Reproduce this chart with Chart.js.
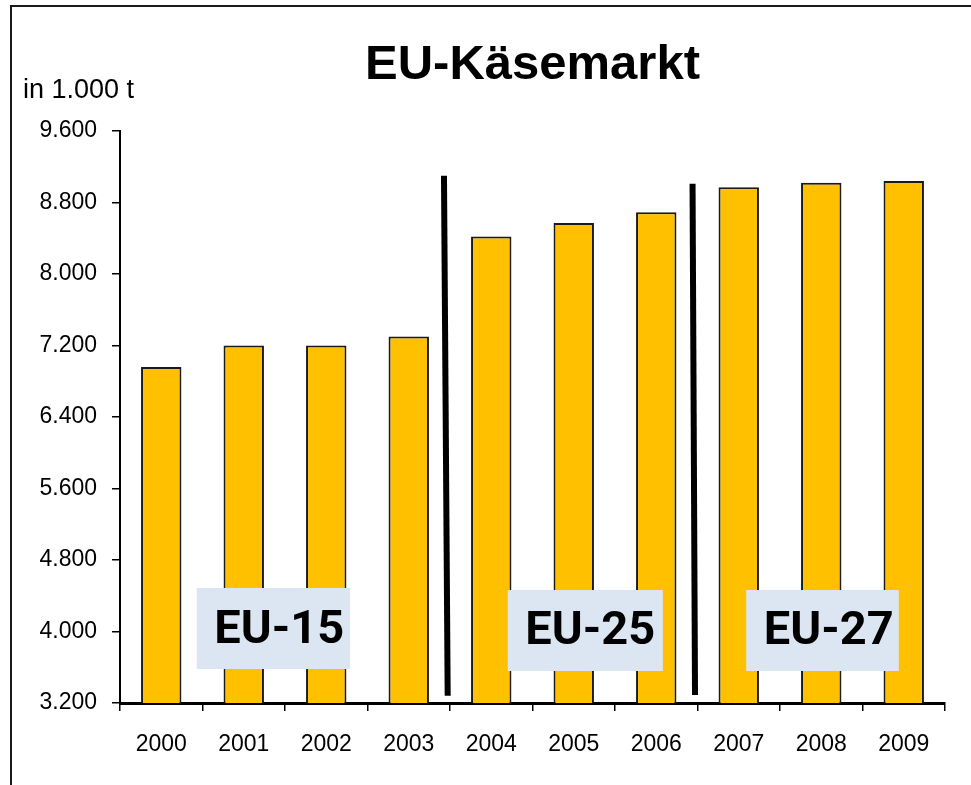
<!DOCTYPE html>
<html>
<head>
<meta charset="utf-8">
<script src="https://cdn.jsdelivr.net/npm/chart.js@4/dist/chart.umd.min.js"></script>
<style>
  html, body { margin: 0; padding: 0; background: #fff; }
  #wrap { position: relative; width: 971px; height: 785px; }
  #frame { position: absolute; left: 10px; top: 5px; right: 0; bottom: 0;
           border-left: 2px solid #1a1a1a; border-top: 2px solid #1a1a1a; pointer-events: none; }
</style>
</head>
<body>
<div id="wrap">
  <canvas id="c" width="971" height="785"></canvas>
  <div id="frame"></div>
</div>
<script>
// ---- data ----
const titleText = 'EU-Käsemarkt';
const unitText = 'in 1.000 t';
const years = ['2000','2001','2002','2003','2004','2005','2006','2007','2008','2009'];
const cheeseProduction = [6960, 7200, 7200, 7300, 8420, 8570, 8690, 8970, 9020, 9040];
const yTickValues = [3200, 4000, 4800, 5600, 6400, 7200, 8000, 8800, 9600];
const yTickLabels = ['3.200','4.000','4.800','5.600','6.400','7.200','8.000','8.800','9.600'];
// region annotations (category-index units on x, data units on y)
const regionNames = ['EU-15', 'EU-25', 'EU-27'];
const regionBoxFrom = [0.43, 4.20, 7.09];
const regionBoxTo = [2.29, 6.08, 8.94];
const regionBoxTop = [4487, 4464, 4464];
const regionBoxBottom = [3580, 3558, 3558];
const regionTextX = [1.43, 5.20, 8.09];
const regionTextY = [4000, 3990, 3990];
// enlargement divider lines
const dividerTopX = [3.427, 6.44];
const dividerBottomX = [3.472, 6.47];
const dividerTopY = [9100, 9010];
const dividerBottomY = [3280, 3290];

const annotationPlugin = {
  id: 'annotations',
  afterDatasetsDraw(chart) {
    const ctx = chart.ctx, xs = chart.scales.x, ys = chart.scales.y;
    ctx.save();
    // boxes with labels
    for (let i = 0; i < regionNames.length; i++) {
      const x0 = xs.getPixelForValue(regionBoxFrom[i]);
      const x1 = xs.getPixelForValue(regionBoxTo[i]);
      const y0 = ys.getPixelForValue(regionBoxTop[i]);
      const y1 = ys.getPixelForValue(regionBoxBottom[i]);
      ctx.fillStyle = '#DCE6F2';
      ctx.fillRect(x0, y0, x1 - x0, y1 - y0);
      ctx.fillStyle = '#000';
      ctx.font = 'bold 47px Roboto, "Open Sans", sans-serif';
      ctx.textAlign = 'center';
      ctx.textBaseline = 'middle';
      ctx.fillText(regionNames[i], xs.getPixelForValue(regionTextX[i]), ys.getPixelForValue(regionTextY[i]));
    }
    // divider lines
    ctx.strokeStyle = '#000';
    ctx.lineWidth = 6;
    ctx.lineCap = 'butt';
    for (let i = 0; i < dividerTopX.length; i++) {
      ctx.beginPath();
      ctx.moveTo(xs.getPixelForValue(dividerTopX[i]), ys.getPixelForValue(dividerTopY[i]));
      ctx.lineTo(xs.getPixelForValue(dividerBottomX[i]), ys.getPixelForValue(dividerBottomY[i]));
      ctx.stroke();
    }
    // unit label
    const ca = chart.chartArea;
    ctx.fillStyle = '#000';
    ctx.font = '27px "Liberation Sans", Arial, sans-serif';
    ctx.textAlign = 'left';
    ctx.textBaseline = 'alphabetic';
    ctx.fillText(unitText, ca.left - 97, ca.top - 33);
    ctx.restore();
  }
};

new Chart(document.getElementById('c'), {
  type: 'bar',
  data: {
    labels: years,
    datasets: [{
      label: 'Käse',
      data: cheeseProduction,
      backgroundColor: '#FFC000',
      borderColor: '#1a1a1a',
      borderWidth: 2,
      borderSkipped: 'bottom',
      barPercentage: 0.49,
      categoryPercentage: 1
    }]
  },
  options: {
    responsive: false,
    animation: false,
    layout: { padding: { left: 0, right: 26, top: 0, bottom: 0 } },
    plugins: {
      legend: { display: false },
      tooltip: { enabled: false },
      title: {
        display: true,
        text: titleText,
        fullSize: false,
        color: '#000',
        font: { family: '"Liberation Sans", Arial, sans-serif', size: 49, weight: 'bold', lineHeight: 1.2 },
        padding: { top: 35.6, bottom: 36.6 }
      }
    },
    scales: {
      x: {
        afterFit(s) { s.height = 82; },
        grid: { display: true, drawOnChartArea: false, offset: true, tickLength: 8, color: '#000', lineWidth: 1.5 },
        border: { display: true, color: '#000', width: 3 },
        ticks: { color: '#000', padding: 20, font: { family: '"Liberation Sans", Arial, sans-serif', size: 23 } }
      },
      y: {
        min: 3200,
        max: 9600,
        afterFit(s) { s.width = 120; },
        afterBuildTicks(s) { s.ticks = yTickValues.map(v => ({ value: v })); },
        grid: { display: true, drawOnChartArea: false, tickLength: 8, color: '#000', lineWidth: 1.5 },
        border: { display: true, color: '#000', width: 2 },
        ticks: {
          color: '#000',
          padding: 15,
          font: { family: '"Liberation Sans", Arial, sans-serif', size: 23 },
          callback(value, index) { return yTickLabels[index]; }
        }
      }
    }
  },
  plugins: [annotationPlugin]
});
</script>
</body>
</html>
